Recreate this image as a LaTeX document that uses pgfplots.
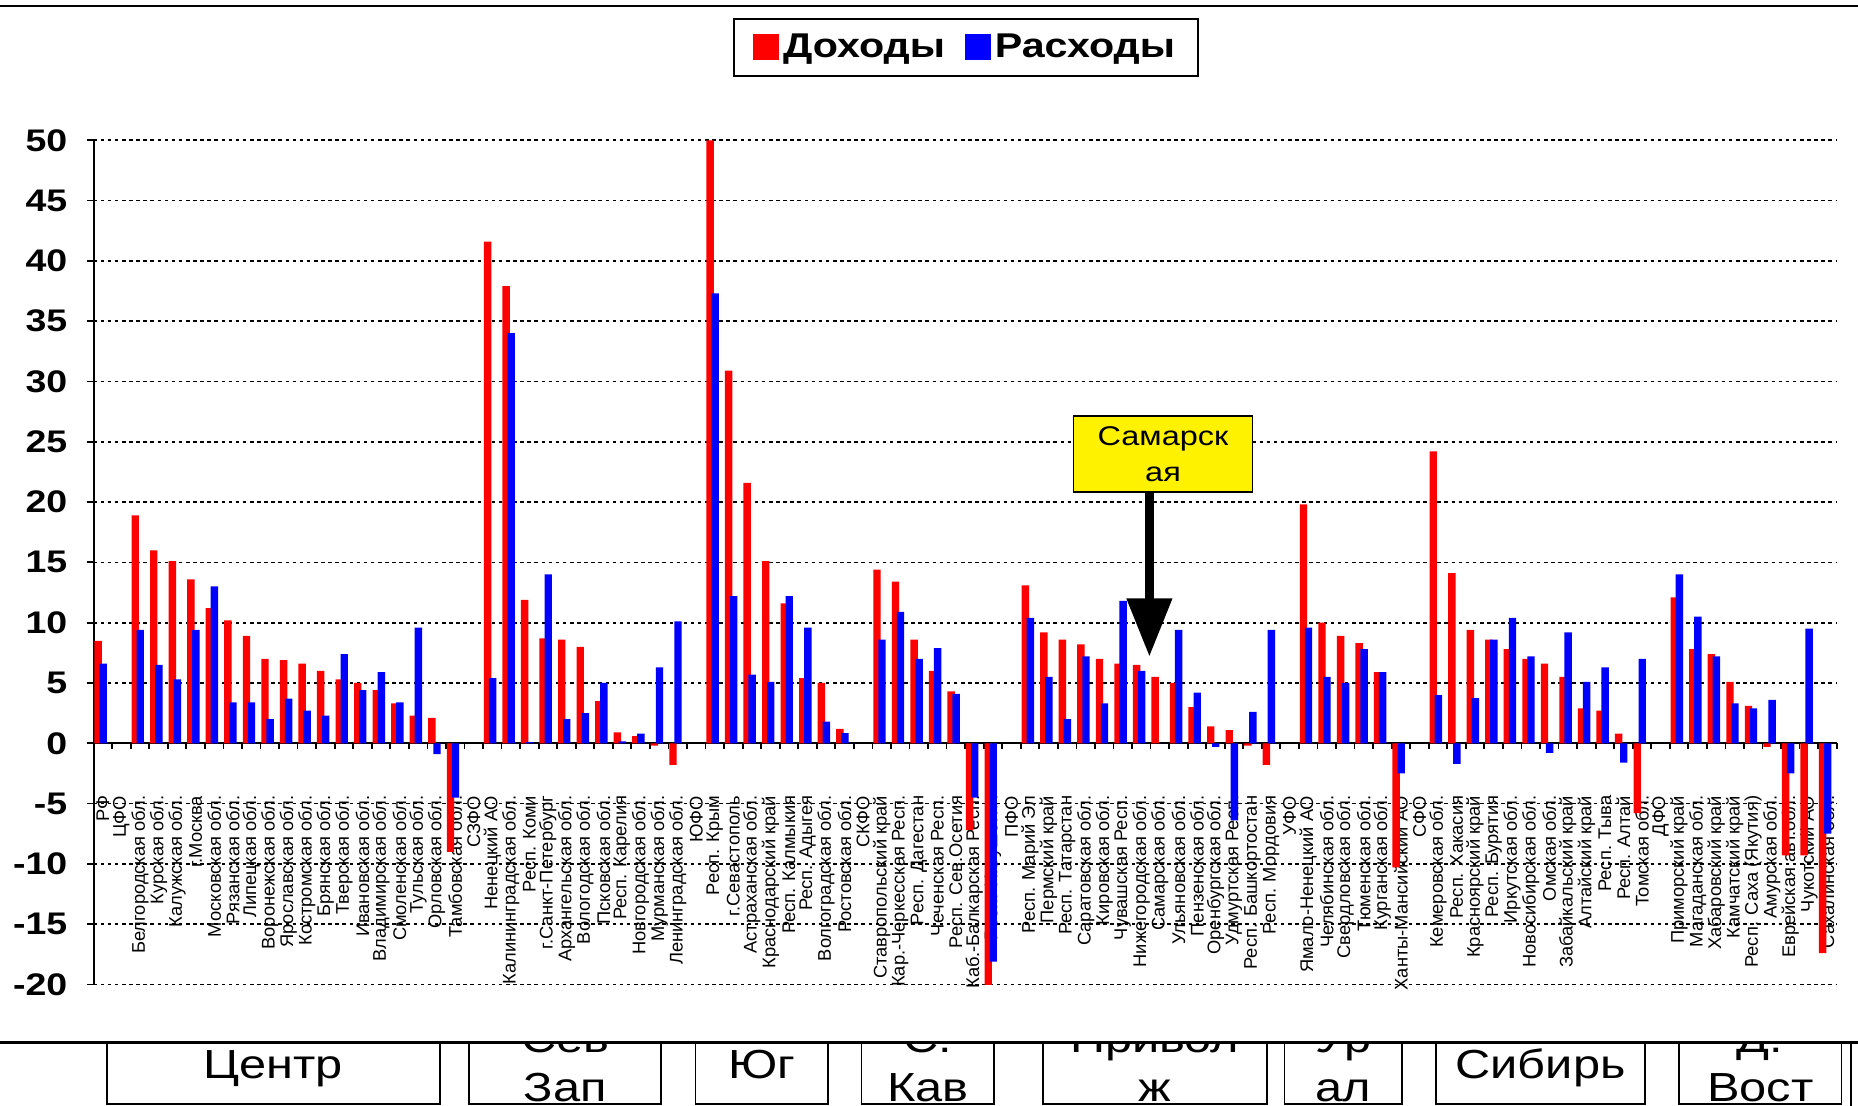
\documentclass[border=0pt]{standalone}
\usepackage{fontspec}
\setmainfont{Liberation Sans}
\newfontfamily\wideb[FakeStretch=1.2]{Liberation Sans}
\usepackage{pgfplots}
\pgfplotsset{compat=1.18}
\usepackage{pgfplotstable}
\usetikzlibrary{arrows.meta}

\pgfplotstableread{
x inc exp
0 8.5 6.6
2 18.9 9.4
3 16.0 6.5
4 15.1 5.3
5 13.6 9.4
6 11.2 13.0
7 10.2 3.4
8 8.9 3.4
9 7.0 2.0
10 6.9 3.7
11 6.6 2.7
12 6.0 2.3
13 5.3 7.4
14 5.0 4.4
15 4.4 5.9
16 3.3 3.4
17 2.3 9.6
18 2.1 -0.9
19 -9.0 -4.5
21 41.6 5.4
22 37.9 34.0
23 11.9 0.1
24 8.7 14.0
25 8.6 2.0
26 8.0 2.5
27 3.5 5.0
28 0.9 0.15
29 0.6 0.8
30 -0.2 6.3
31 -1.8 10.1
33 50 37.3
34 30.9 12.2
35 21.6 5.7
36 15.1 5.1
37 11.6 12.2
38 5.4 9.6
39 5.0 1.8
40 1.2 0.85
42 14.4 8.6
43 13.4 10.9
44 8.6 7.0
45 6.0 7.9
46 4.3 4.1
47 -7.2 -4.5
48 -20.3 -18.1
50 13.1 10.4
51 9.2 5.5
52 8.6 2.0
53 8.2 7.2
54 7.0 3.3
55 6.6 11.8
56 6.5 6.0
57 5.5 0
58 5.0 9.4
59 3.0 4.2
60 1.4 -0.3
61 1.1 -6.4
62 -0.2 2.6
63 -1.8 9.4
65 19.8 9.6
66 10.0 5.5
67 8.9 5.0
68 8.3 7.8
69 5.9 5.9
70 -10.3 -2.5
72 24.2 4.0
73 14.1 -1.7
74 9.4 3.75
75 8.6 8.6
76 7.8 10.4
77 7.0 7.2
78 6.6 -0.8
79 5.5 9.2
80 2.9 5.1
81 2.7 6.3
82 0.8 -1.6
83 -5.8 7.0
85 12.1 14.0
86 7.8 10.5
87 7.4 7.2
88 5.1 3.3
89 3.1 2.9
90 -0.3 3.6
91 -9.3 -2.5
92 -9.3 9.5
93 -17.4 -7.5
}\data

\newcommand\onebox[4]{% x1, x2, line1, line2
  \begin{scope}
    \clip (#1,880) rectangle (#2,932);
    \node[anchor=base, inner sep=0pt, font=\wideb\fontsize{19.5}{22}\selectfont] at ({(#1+#2)/2},888) {#3};
    \node[anchor=base, inner sep=0pt, font=\wideb\fontsize{19.5}{22}\selectfont] at ({(#1+#2)/2},930) {#4};
  \end{scope}
  \draw[line width=0.3mm] (#1,880) rectangle (#2,932);
}
\newcommand\singlebox[3]{% x1, x2, text
  \node[anchor=base, inner sep=0pt, font=\wideb\fontsize{19.5}{22}\selectfont] at ({(#1+#2)/2},910) {#3};
  \draw[line width=0.3mm] (#1,880) rectangle (#2,932);
}

\begin{document}
\begin{tikzpicture}
\useasboundingbox (0,0) rectangle (313.6mm,-186.6mm);
\begin{axis}[
  at={(15.8mm,-166.16mm)}, anchor=south west,
  scale only axis, width=294.2mm, height=142.48mm,
  xmin=-0.5, xmax=93.5, ymin=-20, ymax=50,
  axis x line=middle, axis y line=left,
  axis line style={-, line width=0.35mm, black},
  ybar, bar width=1.25mm,
  xtick={0,...,93},
  xticklabels={РФ,ЦФО,Белгородская обл.,Курская обл.,Калужская обл.,г.Москва,Московская обл.,Рязанская обл.,Липецкая обл.,Воронежская обл.,Ярославская обл.,Костромская обл.,Брянская обл.,Тверская обл.,Ивановская обл.,Владимирская обл.,Смоленская обл.,Тульская обл.,Орловская обл.,Тамбовская обл.,СЗФО,Ненецкий АО,Калининградская обл.,Респ. Коми,г.Санкт-Петербург,Архангельская обл.,Вологодская обл.,Псковская обл.,Респ. Карелия,Новгородская обл.,Мурманская обл.,Ленинградская обл.,ЮФО,Респ. Крым,г.Севастополь,Астраханская обл.,Краснодарский край,Респ. Калмыкия,Респ. Адыгея,Волгоградская обл.,Ростовская обл.,СКФО,Ставропольский край,Кар.-Черкесская Респ.,Респ. Дагестан,Чеченская Респ.,Респ. Сев.Осетия,Каб.-Балкарская Респ.,Респ. Ингушетия,ПФО,Респ. Марий Эл,Пермский край,Респ. Татарстан,Саратовская обл.,Кировская обл.,Чувашская Респ.,Нижегородская обл.,Самарская обл.,Ульяновская обл.,Пензенская обл.,Оренбургская обл.,Удмуртская Респ.,Респ. Башкортостан,Респ. Мордовия,УФО,Ямало-Ненецкий АО,Челябинская обл.,Свердловская обл.,Тюменская обл.,Курганская обл.,Ханты-Мансийский АО,СФО,Кемеровская обл.,Респ. Хакасия,Красноярский край,Респ. Бурятия,Иркутская обл.,Новосибирская обл.,Омская обл.,Забайкальский край,Алтайский край,Респ. Тыва,Респ. Алтай,Томская обл.,ДФО,Приморский край,Магаданская обл.,Хабаровский край,Камчатский край,Респ. Саха (Якутия),Амурская обл.,Еврейская авт.обл.,Чукотский АО,Сахалинская обл.},
  major x tick style={draw=none},
  minor xtick={-0.5,0.5,...,93.5},
  ytick={-20,-15,...,50},
  tick align=outside,
  major tick length=1.2mm, minor tick length=0.9mm,
  tick style={black, line width=0.3mm},
  ymajorgrids,
  major grid style={black, line width=0.28mm, dash pattern=on 0.6mm off 0.6mm},
  hide obscured x ticks=false, hide obscured y ticks=false,
  /pgf/number format/assume math mode=true,
  yticklabel style={font=\wideb\bfseries\fontsize{15}{16}\selectfont, xshift=-2mm},
  xticklabel style={rotate=90, anchor=east, font=\fontsize{8.8}{9}\selectfont, inner xsep=7.6mm},
  legend style={at={(0.5005,1.110)}, anchor=center, draw=black, line width=0.3mm,
    font=\wideb\bfseries\fontsize{16.5}{18}\selectfont, legend columns=2,
    /tikz/every even column/.append style={column sep=2.6mm},
    inner xsep=3.2mm, inner ysep=1.8mm},
  legend image code/.code={\fill[#1] (0mm,-2.2mm) rectangle (4.4mm,2.2mm);},
]
\addplot[fill=red, draw=none, bar shift=-0.8mm] table[x=x, y=inc] {\data};
\addplot[fill=blue, draw=none, bar shift=0.05mm] table[x=x, y=exp] {\data};
\legend{Доходы, Расходы}
\end{axis}
\begin{scope}[x=0.2mm, y=-0.2mm]
  \draw[line width=0.35mm] (0,5) -- (1568,5);
  % annotation
  \draw[fill=yellow, line width=0.3mm] (906,351) rectangle (1057,415);
  \node[anchor=base, inner sep=0pt, font=\wideb\fontsize{13}{15}\selectfont] at (981.5,376) {Самарск};
  \node[anchor=base, inner sep=0pt, font=\wideb\fontsize{13}{15}\selectfont] at (981.5,406) {ая};
  \draw[line width=1.4mm, -{Triangle[width=7.4mm,length=9.8mm]}] (970,415) -- (970,554);
  % bottom boxes
  \draw[line width=0.5mm] (0,880) -- (1568,880);
  \singlebox{90}{371}{Центр}
  \onebox{396}{558}{Сев}{Зап}
  \singlebox{587}{699}{Юг}
  \onebox{727}{839}{С.}{Кав}
  \onebox{880}{1069}{Привол}{ж}
  \onebox{1084}{1183}{Ур}{ал}
  \singlebox{1212}{1388}{Сибирь}
  \onebox{1417}{1554}{Д.}{Вост}
  \draw[line width=0.3mm] (1562,880) -- (1562,934);
\end{scope}
\end{tikzpicture}
\end{document}
